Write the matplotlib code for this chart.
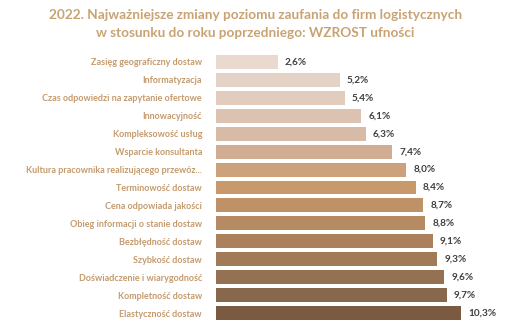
import matplotlib
matplotlib.use("Agg")
import matplotlib.pyplot as plt
import numpy as np

plt.rcParams['font.family'] = ['Lato', 'DejaVu Sans']

categories = [
    "Zasięg geograficzny dostaw",
    "Informatyzacja",
    "Czas odpowiedzi na zapytanie ofertowe",
    "Innowacyjność",
    "Kompleksowość usług",
    "Wsparcie konsultanta",
    "Kultura pracownika realizującego przewóz...",
    "Terminowość dostaw",
    "Cena odpowiada jakości",
    "Obieg informacji o stanie dostaw",
    "Bezbłędność dostaw",
    "Szybkość dostaw",
    "Doświadczenie i wiarygodność",
    "Kompletność dostaw",
    "Elastyczność dostaw",
]
values = [2.6, 5.2, 5.4, 6.1, 6.3, 7.4, 8.0, 8.4, 8.7, 8.8, 9.1, 9.3, 9.6, 9.7, 10.3]
colors = ["#e9d9cf", "#e5d2c6", "#e1ccbe", "#dcc3b1", "#d7bba6", "#d1ae93",
          "#cca27c", "#c8996b", "#bf9166", "#b68a62", "#aa815c", "#a17a57",
          "#947152", "#88684d", "#7a5b42"]

title_color = "#c9a373"
label_color = "#c49b6e"

fig = plt.figure(figsize=(5.11, 3.24), dpi=100)
ax = fig.add_axes([216 / 511, 2 / 324, 284 / 511, 269 / 324])

y = np.arange(len(values))
ax.barh(y, values, height=0.78, color=colors)
ax.set_ylim(len(values) - 0.5, -0.5)
ax.set_xlim(0, 284 / 23.8)

for yi, v in zip(y, values):
    ax.text(v + 0.3, yi, f"{v:.1f}%".replace(".", ","), va="center", ha="left",
            fontsize=7.2, fontweight="bold", color="#404040")

ax.set_yticks(y)
ax.set_yticklabels(categories, fontsize=6.5, fontweight="bold", color=label_color)
ax.tick_params(axis="y", length=0, pad=10)
ax.set_xticks([])
for s in ax.spines.values():
    s.set_visible(False)

fig.text(0.5, 1 - 15 / 324, "2022. Najważniejsze zmiany poziomu zaufania do firm logistycznych",
         ha="center", va="center", fontsize=9.8, fontweight="bold", color=title_color)
fig.text(0.5, 1 - 33 / 324, "w stosunku do roku poprzedniego: WZROST ufności",
         ha="center", va="center", fontsize=9.8, fontweight="bold", color=title_color)

fig.savefig("out.png", dpi=100)
